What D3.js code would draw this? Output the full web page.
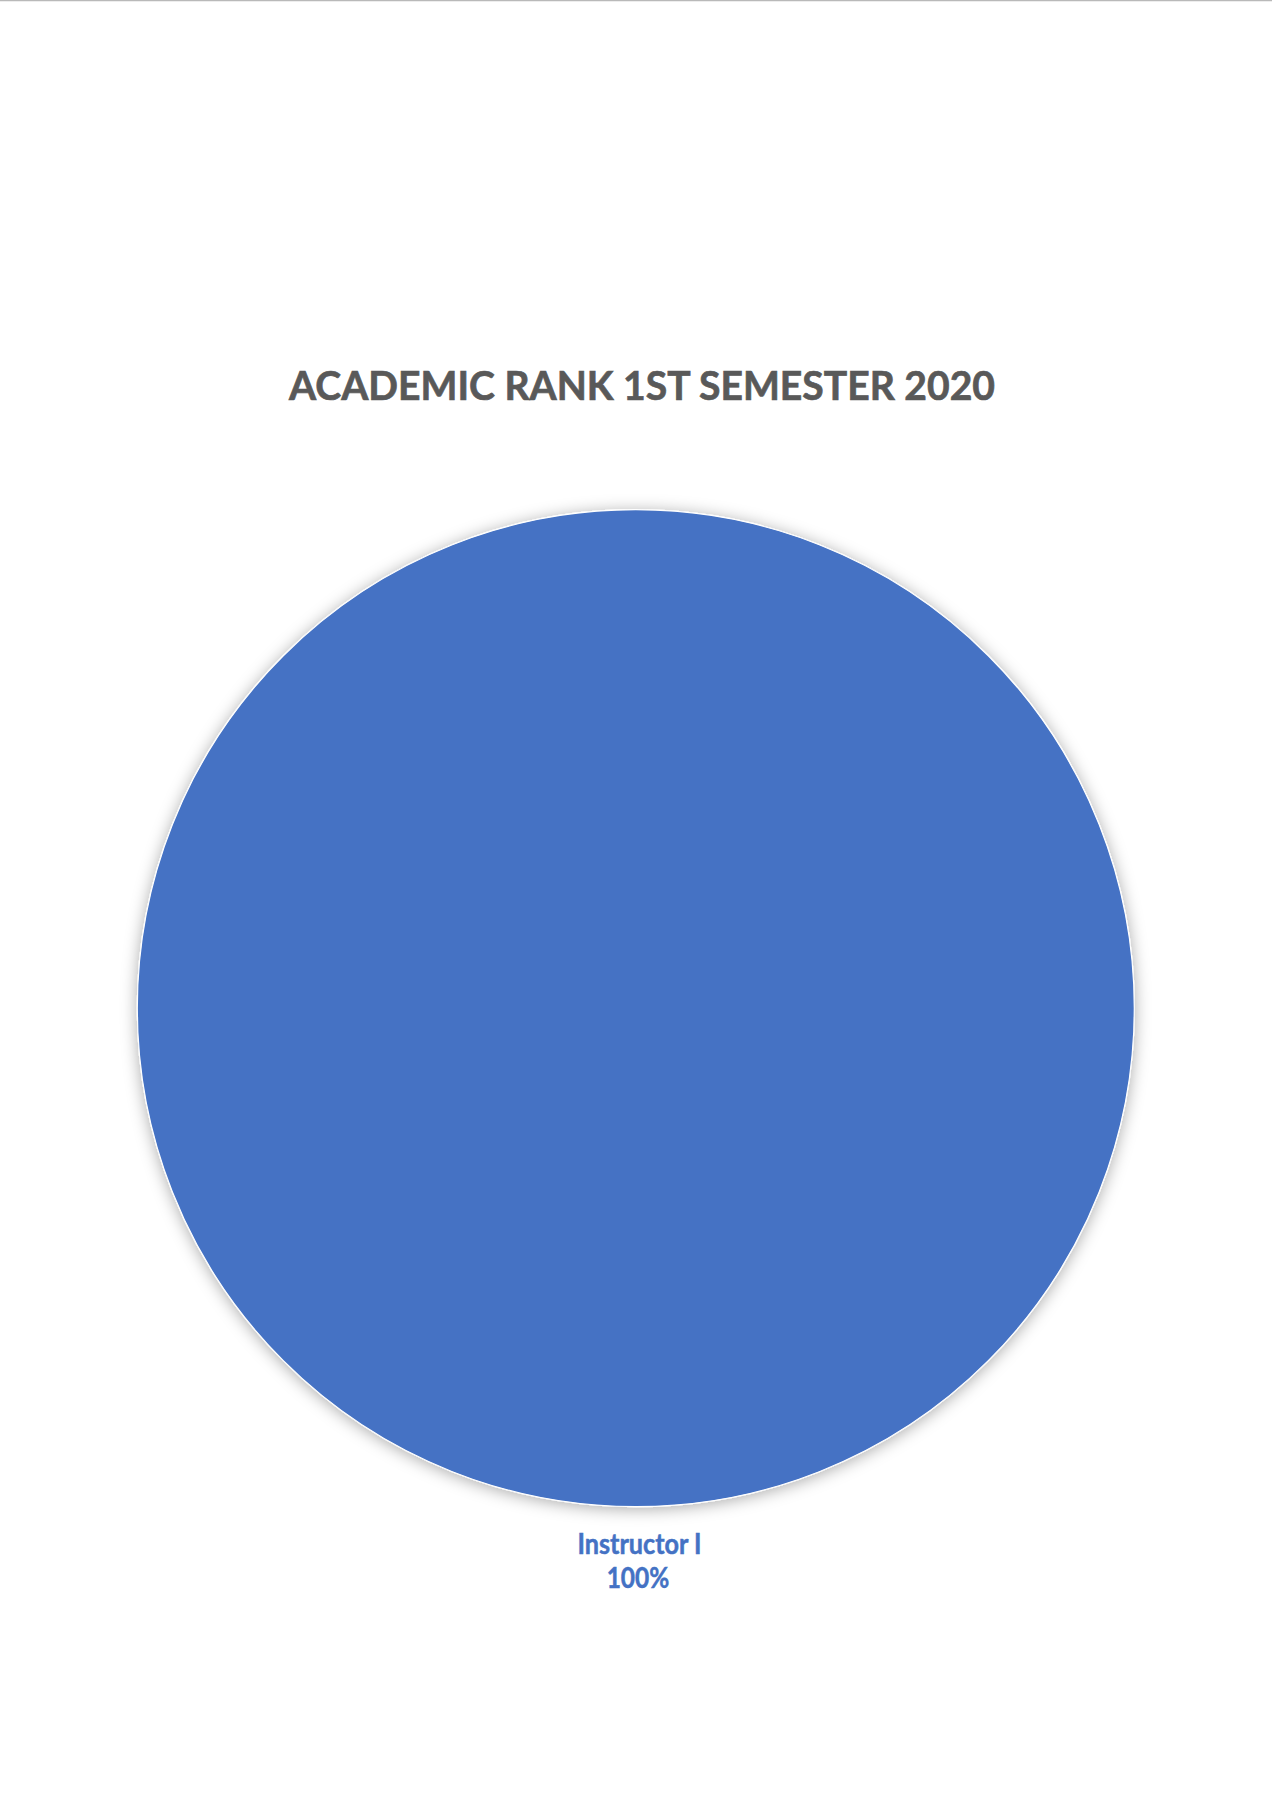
<!DOCTYPE html>
<html>
<head>
<meta charset="utf-8">
<script src="https://cdn.jsdelivr.net/npm/d3@7"></script>
<style>
  html, body { margin: 0; padding: 0; background: #fff; }
  svg { display: block; }
</style>
</head>
<body>
<script>
const categories = ["Instructor I"];
const values = [100];
const percentLabels = ["100%"];
const titleText = "ACADEMIC RANK 1ST SEMESTER 2020";

const W = 1272, H = 1800;
const svg = d3.select("body").append("svg").attr("width", W).attr("height", H);

// top page edge line
svg.append("line").attr("x1", 0).attr("x2", W).attr("y1", 0.5).attr("y2", 0.5)
  .attr("stroke", "#b9b9b9").attr("stroke-width", 1.5);

const defs = svg.append("defs");
const f = defs.append("filter").attr("id", "shadow")
  .attr("x", "-10%").attr("y", "-10%").attr("width", "120%").attr("height", "120%");
f.append("feDropShadow").attr("dx", 0).attr("dy", 2).attr("stdDeviation", 8)
  .attr("flood-color", "#000").attr("flood-opacity", 0.33);

const font = "Lato, 'Open Sans', sans-serif";

// Title
svg.append("text")
  .attr("x", 642).attr("y", 400)
  .attr("text-anchor", "middle")
  .attr("font-family", font).attr("font-weight", 700)
  .attr("fill", "#595959")
  .attr("stroke", "#595959").attr("stroke-width", 0.7)
  .attr("font-size", 41)
  .attr("textLength", 706)
  .attr("lengthAdjust", "spacingAndGlyphs")
  .text(titleText);

const cx = 635.8, cy = 1008.2, r = 498.5;
const colors = d3.scaleOrdinal().domain(categories).range(["#4472C4"]);
const pie = d3.pie().sort(null).value(d => d)(values);
const arc = d3.arc().innerRadius(0).outerRadius(r);

const g = svg.append("g").attr("transform", `translate(${cx},${cy})`);
g.selectAll("path").data(pie).join("path")
  .attr("d", arc)
  .attr("fill", (d, i) => colors(categories[i]))
  .attr("stroke", "#ffffff").attr("stroke-width", 1.2)
  .attr("filter", "url(#shadow)");

// Labels
const lab = svg.append("g");
categories.forEach((c, i) => {
  lab.append("text")
    .attr("x", 639.5).attr("y", 1554)
    .attr("text-anchor", "middle")
    .attr("font-family", font).attr("font-weight", 700)
    .attr("fill", "#4472C4")
    .attr("stroke", "#4472C4").attr("stroke-width", 0.5)
    .attr("font-size", 28)
    .attr("textLength", 124)
    .attr("lengthAdjust", "spacingAndGlyphs")
    .text(c);
  lab.append("text")
    .attr("x", 638).attr("y", 1588)
    .attr("text-anchor", "middle")
    .attr("font-family", font).attr("font-weight", 700)
    .attr("fill", "#4472C4")
    .attr("stroke", "#4472C4").attr("stroke-width", 0.5)
    .attr("font-size", 28)
    .attr("textLength", 62.6)
    .attr("lengthAdjust", "spacingAndGlyphs")
    .text(percentLabels[i]);
});
</script>
</body>
</html>
